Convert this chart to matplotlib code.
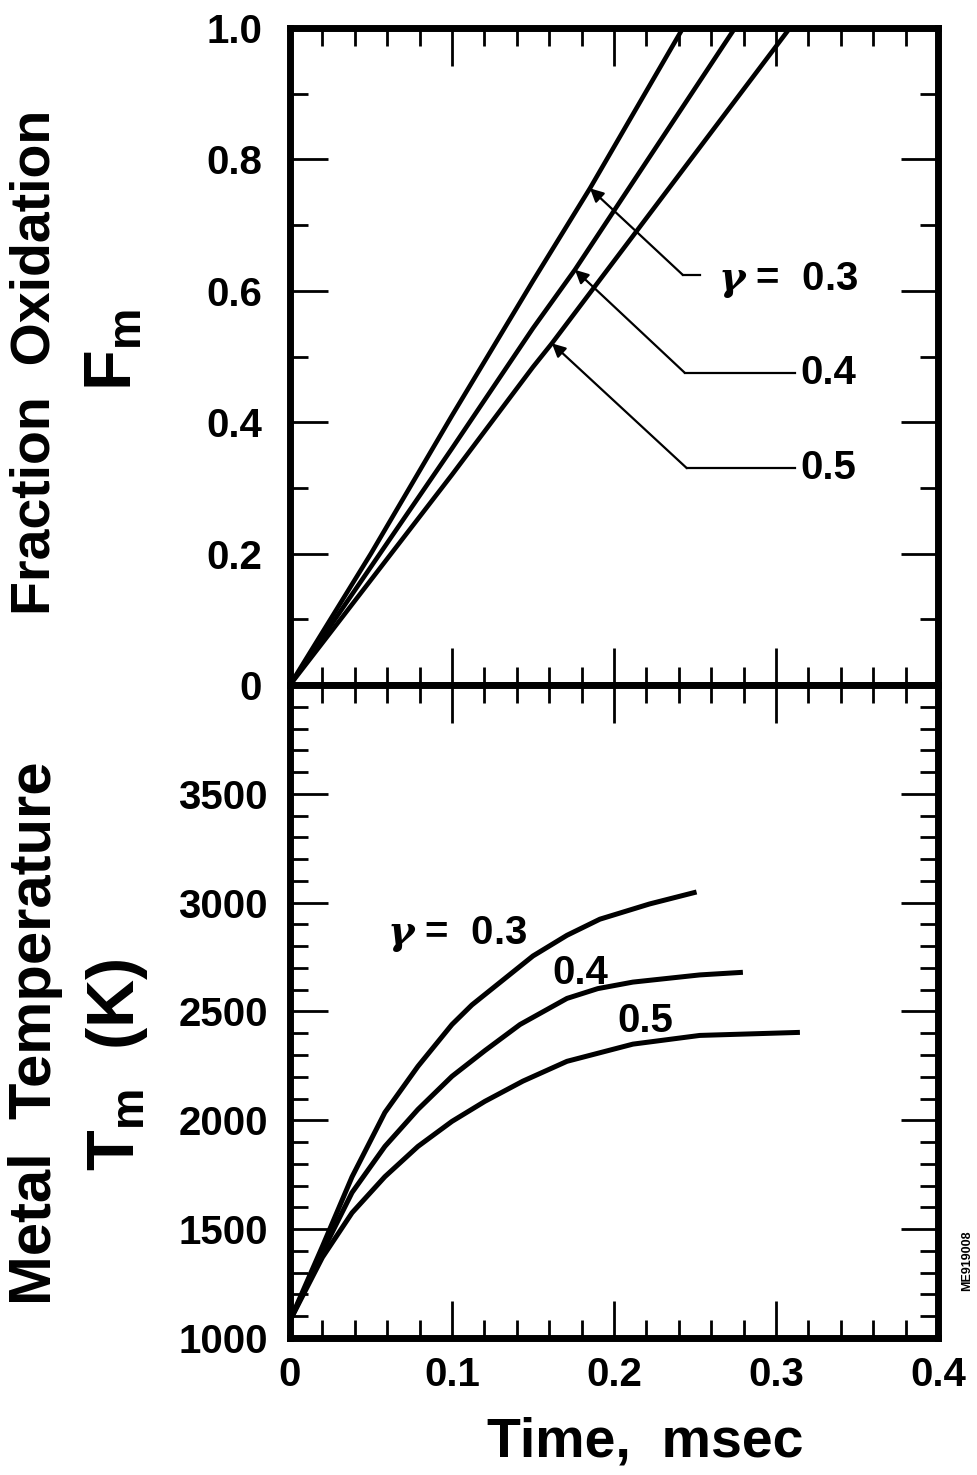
import matplotlib.pyplot as plt
import numpy as np
from matplotlib.ticker import MultipleLocator

plt.rcParams['font.family'] = ['Liberation Sans', 'DejaVu Sans']
plt.rcParams['font.weight'] = 'bold'
plt.rcParams['mathtext.fontset'] = 'custom'
plt.rcParams['mathtext.rm'] = 'Liberation Sans'
plt.rcParams['mathtext.bf'] = 'Liberation Sans:bold'
plt.rcParams['mathtext.it'] = 'DejaVu Serif:italic'

# Fraction oxidation F_m vs time (msec)
gammas = ['0.3', '0.4', '0.5']
t_frac = {
    '0.3': [0.0, 0.05, 0.10, 0.15, 0.1852, 0.2426],
    '0.4': [0.0, 0.05, 0.10, 0.15, 0.1759, 0.2747],
    '0.5': [0.0, 0.05, 0.10, 0.15, 0.1617, 0.3086],
}
f_frac = {
    '0.3': [0.0, 0.20, 0.41, 0.615, 0.756, 1.0],
    '0.4': [0.0, 0.18, 0.36, 0.543, 0.632, 1.0],
    '0.5': [0.0, 0.16, 0.32, 0.484, 0.520, 1.0],
}

# Metal temperature T_m (K) vs time (msec)
t_temp = {
    '0.3': [0.0, 0.01, 0.02, 0.0383, 0.0586, 0.079, 0.100, 0.1123, 0.150,
            0.171, 0.1913, 0.222, 0.251],
    '0.4': [0.0, 0.01, 0.02, 0.0383, 0.0586, 0.079, 0.100, 0.1203, 0.142,
            0.171, 0.190, 0.2117, 0.253, 0.2796],
    '0.5': [0.0, 0.01, 0.02, 0.0383, 0.0586, 0.079, 0.100, 0.1203, 0.1438,
            0.171, 0.2117, 0.253, 0.3148],
}
temp = {
    '0.3': [1080, 1250, 1420, 1740, 2036, 2248, 2440, 2530, 2755,
            2850, 2924, 2994, 3049],
    '0.4': [1080, 1235, 1395, 1668, 1880, 2050, 2202, 2320, 2440,
            2560, 2605, 2635, 2668, 2680],
    '0.5': [1080, 1225, 1370, 1575, 1741, 1880, 1995, 2087, 2180,
            2271, 2350, 2390, 2404],
}

top_yticks = [0, 0.2, 0.4, 0.6, 0.8, 1.0]
top_ylabels = ['0', '0.2', '0.4', '0.6', '0.8', '1.0']
bot_yticks = [1000, 1500, 2000, 2500, 3000, 3500]
x_ticks = [0, 0.1, 0.2, 0.3, 0.4]
x_labels = ['0', '0.1', '0.2', '0.3', '0.4']

fig = plt.figure(figsize=(9.77, 14.75), dpi=100)
ax1 = fig.add_axes([0.2968, 0.5356, 0.6632, 0.4454])
ax2 = fig.add_axes([0.2968, 0.0929, 0.6632, 0.4427])

for g in gammas:
    ax1.plot(t_frac[g], f_frac[g], color='black', lw=3.3, solid_capstyle='butt')
    ax2.plot(t_temp[g], temp[g], color='black', lw=3.6, solid_capstyle='butt',
             solid_joinstyle='round')

ax1.set_xlim(0, 0.4)
ax1.set_ylim(0, 1.0)
ax2.set_xlim(0, 0.4)
ax2.set_ylim(1000, 4000)

for ax in (ax1, ax2):
    for s in ax.spines.values():
        s.set_linewidth(5)
    ax.xaxis.set_major_locator(MultipleLocator(0.1))
    ax.xaxis.set_minor_locator(MultipleLocator(0.02))
    ax.tick_params(which='both', direction='in', top=True, right=True,
                   width=2, labelsize=29)
    ax.tick_params(which='major', length=27)
    ax.tick_params(which='minor', length=13)

ax1.set_yticks(top_yticks)
ax1.set_yticklabels(top_ylabels)
ax1.yaxis.set_minor_locator(MultipleLocator(0.1))
ax1.tick_params(axis='x', labelbottom=False)
ax1.tick_params(axis='y', pad=20)

ax2.set_yticks(bot_yticks)
ax2.yaxis.set_minor_locator(MultipleLocator(100))
ax2.set_xticks(x_ticks)
ax2.set_xticklabels(x_labels)
ax2.tick_params(axis='y', pad=16)
ax2.tick_params(axis='x', pad=13)

# leader lines with arrows, top panel
leaders = [
    # tip, elbow, horizontal end
    ((0.1852, 0.756), (0.2426, 0.624), 0.253),
    ((0.1759, 0.632), (0.2438, 0.475), 0.3117),
    ((0.1617, 0.520), (0.2450, 0.330), 0.3117),
]
for tip, elbow, xend in leaders:
    ax1.annotate('', xy=tip, xytext=elbow,
                 arrowprops=dict(arrowstyle='-|>', lw=1.6, color='black',
                                 mutation_scale=20, shrinkA=0, shrinkB=0))
    ax1.plot([elbow[0], xend], [elbow[1], elbow[1]], color='black', lw=1.6)

ax1.text(0.264, 0.616, r'$\gamma$ =  0.3', fontsize=29, va='center', ha='left')
ax1.text(0.3148, 0.475, '0.4', fontsize=29, va='center', ha='left')
ax1.text(0.3148, 0.330, '0.5', fontsize=29, va='center', ha='left')

ax2.text(0.0599, 2855, r'$\gamma$ =  0.3', fontsize=29, va='center', ha='left')
ax2.text(0.1617, 2676, '0.4', fontsize=29, va='center', ha='left')
ax2.text(0.2024, 2455, '0.5', fontsize=29, va='center', ha='left')

fig.text(0.036, 0.7546, 'Fraction  Oxidation', rotation=90, fontsize=40,
         ha='center', va='center')
fig.text(0.117, 0.7627, r'F$_\mathrm{m}$', rotation=90, fontsize=48,
         ha='center', va='center')
fig.text(0.036, 0.2997, 'Metal  Temperature', rotation=90, fontsize=43,
         ha='center', va='center')
fig.text(0.120, 0.278, r'T$_\mathrm{m}$  (K)', rotation=90, fontsize=48,
         ha='center', va='center')
fig.text(0.660, 0.0217, 'Time,  msec', fontsize=40, ha='center', va='center')
fig.text(0.990, 0.145, 'ME919008', rotation=90, fontsize=9,
         ha='center', va='center')

fig.savefig('out.png', dpi=100)
